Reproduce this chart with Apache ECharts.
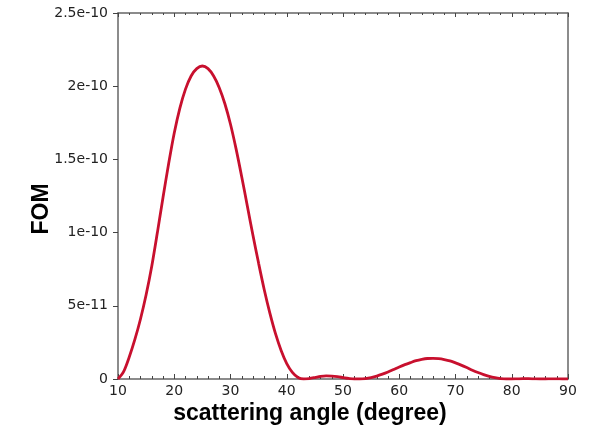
<!DOCTYPE html>
<html>
<head>
<meta charset="utf-8">
<script src="https://cdn.jsdelivr.net/npm/echarts@6/dist/echarts.min.js"></script>
<style>html,body{margin:0;padding:0;background:#fff;}#c{width:591px;height:432px;}</style>
</head>
<body>
<div id="c"></div>
<script>
var angles = [10,11,12,13,14,15,16,17,18,19,20,21,22,23,24,25,26,27,28,29,30,31,32,33,34,35,36,37,38,39,40,41,42,43,44,45,46,47,48,49,50,51,52,53,54,55,56,57,58,59,60,61,62,63,64,65,66,67,68,69,70,71,72,73,74,75,76,77,78,79,80,81,82,83,84,85,86,87,88,89,90];
var fom = [0,5e-12,1.5e-11,2.7e-11,4.1e-11,5.75e-11,7.7e-11,1.0e-10,1.24e-10,1.47e-10,1.68e-10,1.85e-10,1.98e-10,2.07e-10,2.12e-10,2.138e-10,2.12e-10,2.07e-10,1.99e-10,1.88e-10,1.74e-10,1.57e-10,1.38e-10,1.18e-10,9.8e-11,7.9e-11,6.1e-11,4.5e-11,3.1e-11,1.95e-11,1.05e-11,4.5e-12,1e-12,0,3e-13,1e-12,1.8e-12,2.2e-12,2e-12,1.6e-12,1e-12,4e-13,0,0,3e-13,1e-12,2e-12,3.3e-12,4.8e-12,6.5e-12,8.2e-12,9.8e-12,1.12e-11,1.25e-11,1.34e-11,1.4e-11,1.41e-11,1.39e-11,1.33e-11,1.24e-11,1.1e-11,9.5e-12,7.8e-12,6e-12,4.4e-12,3e-12,1.8e-12,9e-13,3e-13,0,0,1e-13,2e-13,2e-13,1e-13,0,0,1e-13,1e-13,0,0];
var yTickLabels = ['0','5e-11','1e-10','1.5e-10','2e-10','2.5e-10'];
var xTitle = 'scattering angle (degree)';
var yTitle = 'FOM';

var data = angles.map(function(a,i){return [a, fom[i]];});
var axisColor = '#666';
var labelStyle = {fontFamily:'DejaVu Sans', fontSize:14, color:'#222'};
var chart = echarts.init(document.getElementById('c'));
chart.setOption({
  animation:false,
  backgroundColor:'#fff',
  grid:{left:118, right:23, top:13, bottom:53},
  xAxis:[{
    type:'value', min:10, max:90, interval:10, position:'bottom',
    axisLine:{onZero:false, lineStyle:{color:axisColor, width:1.5}},
    axisTick:{inside:true, length:5, lineStyle:{color:'#444'}},
    minorTick:{show:true, splitNumber:5, length:3, lineStyle:{color:'#444'}},
    axisLabel:Object.assign({margin:5}, labelStyle),
    splitLine:{show:false}
  },{
    type:'value', min:10, max:90, interval:10, position:'top',
    axisLine:{onZero:false, lineStyle:{color:axisColor, width:1.5}},
    axisTick:{inside:true, length:4, lineStyle:{color:'#444'}},
    minorTick:{show:true, splitNumber:5, length:2, lineStyle:{color:'#444'}},
    axisLabel:{show:false},
    splitLine:{show:false}
  }],
  yAxis:[{
    type:'value', min:0, max:2.5e-10, interval:5e-11, position:'left',
    axisLine:{show:true, onZero:false, lineStyle:{color:axisColor, width:1.5}},
    axisTick:{show:true, inside:false, length:5, lineStyle:{color:'#444'}},
    axisLabel:Object.assign({margin:10, formatter:function(v){return yTickLabels[Math.round(v/5e-11)];}}, labelStyle),
    splitLine:{show:false}
  },{
    type:'value', min:0, max:2.5e-10, interval:5e-11, position:'right',
    axisLine:{show:true, onZero:false, lineStyle:{color:axisColor, width:1.5}},
    axisTick:{show:false}, axisLabel:{show:false}, splitLine:{show:false}
  }],
  graphic:[
    {type:'text', x:310, y:414, style:{text:xTitle, fontFamily:'Liberation Sans', fontWeight:'bold', fontSize:23, fill:'#000', textAlign:'center', textVerticalAlign:'middle'}},
    {type:'text', x:42, y:209, rotation:Math.PI/2, style:{text:yTitle, fontFamily:'Liberation Sans', fontWeight:'bold', fontSize:23, fill:'#000', textAlign:'center', textVerticalAlign:'middle'}}
  ],
  series:[{
    type:'line', data:data, smooth:0.3, showSymbol:false,
    lineStyle:{color:'#c8102e', width:2.8},
    itemStyle:{color:'#c8102e'}
  }]
});
</script>
</body>
</html>
